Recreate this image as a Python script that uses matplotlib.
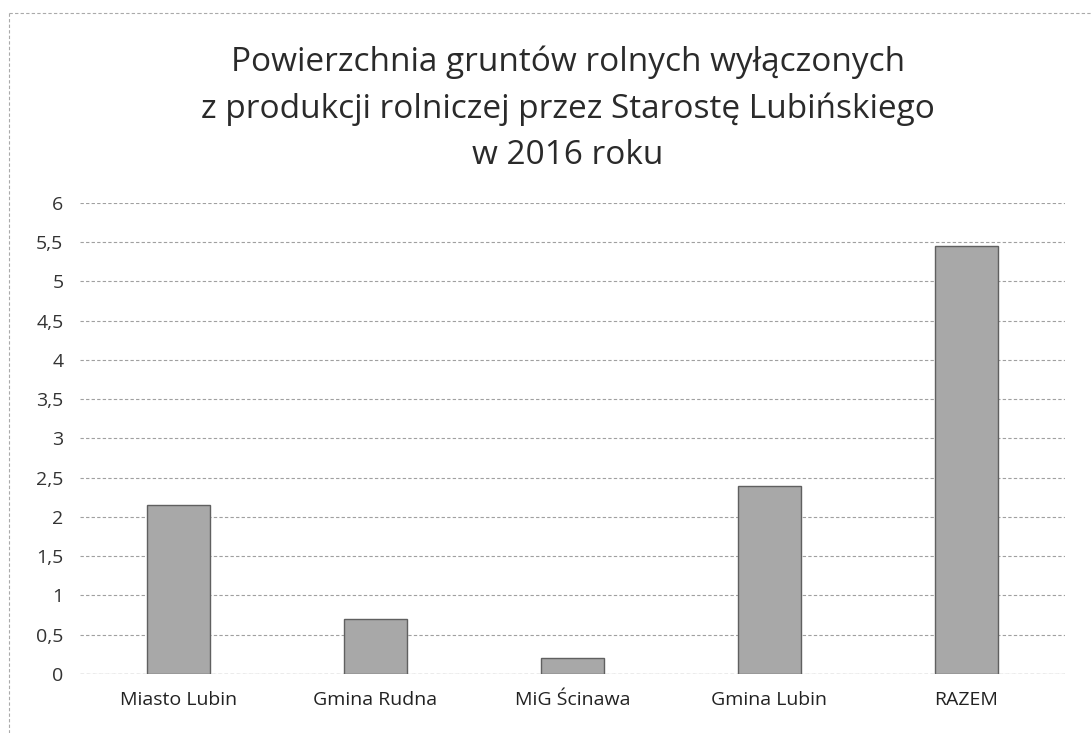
import matplotlib
matplotlib.use('Agg')
import matplotlib.pyplot as plt
import numpy as np

categories = ['Miasto Lubin', 'Gmina Rudna', 'MiG Ścinawa', 'Gmina Lubin', 'RAZEM']
values = [2.15, 0.70, 0.20, 2.40, 5.45]
y_ticks = [0, 0.5, 1, 1.5, 2, 2.5, 3, 3.5, 4, 4.5, 5, 5.5, 6]
y_labels = ['0', '0,5', '1', '1,5', '2', '2,5', '3', '3,5', '4', '4,5', '5', '5,5', '6']
title = ('Powierzchnia gruntów rolnych wyłączonych\n'
         'z produkcji rolniczej przez Starostę Lubińskiego\n'
         'w 2016 roku')

plt.rcParams['font.family'] = ['Open Sans', 'DejaVu Sans']

fig = plt.figure(figsize=(10.92, 7.33), dpi=100)
ax = fig.add_axes([0.0733, 0.0805, 0.9017, 0.6426])

x = np.arange(len(categories))
ax.bar(x, values, width=0.32, color='#a8a8a8', edgecolor='#606060',
       linewidth=1.0, zorder=3)

ax.set_xlim(-0.5, len(categories) - 0.5)
ax.set_ylim(0, 6)
ax.set_yticks(y_ticks)
ax.set_yticklabels(y_labels, fontsize=14, color='#333333')
ax.set_xticks(x)
ax.set_xticklabels(categories, fontsize=14, color='#222222')
ax.tick_params(axis='both', length=0)
ax.tick_params(axis='y', pad=12)
ax.tick_params(axis='x', pad=12)
ax.grid(axis='y', color='#a0a0a0', linewidth=0.8, linestyle=(0, (3, 2)), zorder=0)
for s in ax.spines.values():
    s.set_visible(False)
ax.axhline(0, color='#8a8a8a', linewidth=0.9, linestyle=(0, (3, 2)), zorder=1)

fig.text(0.52, 0.852, title, ha='center', va='center', fontsize=24,
         color='#2a2a2a', linespacing=1.52)

# chart frame (top and left edges visible in the scan)
fig.add_artist(plt.Line2D([0.008, 1.0], [0.982, 0.982], transform=fig.transFigure,
                          color='#aaaaaa', linewidth=0.8, linestyle=(0, (3, 2))))
fig.add_artist(plt.Line2D([0.008, 0.008], [0.0, 0.982], transform=fig.transFigure,
                          color='#aaaaaa', linewidth=0.8, linestyle=(0, (3, 2))))

plt.savefig('out.png', dpi=100)
